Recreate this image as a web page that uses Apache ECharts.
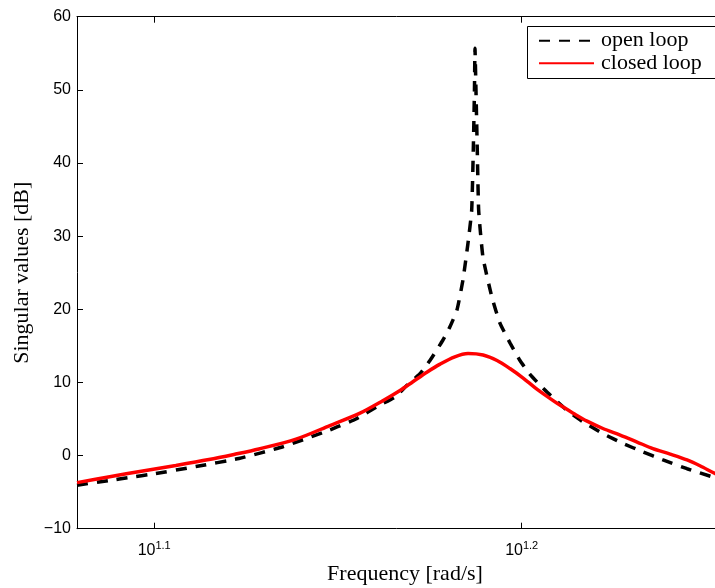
<!DOCTYPE html>
<html>
<head>
<meta charset="utf-8">
<script src="https://cdn.jsdelivr.net/npm/echarts@6/dist/echarts.min.js"></script>
<style>
html,body{margin:0;padding:0;background:#fff;}
#chart{width:715px;height:588px;}
</style>
</head>
<body>
<div id="chart"></div>
<script>
// Frequency given as log10(rad/s) exponent, values in dB
const openLoopLogFreq = [1.0790, 1.0879, 1.09311, 1.1000, 1.11135, 1.12305, 1.13503, 1.1478, 1.1549, 1.16143, 1.16551, 1.16878, 1.17232, 1.17504, 1.17858, 1.18048, 1.18239, 1.18402, 1.18538, 1.18639, 1.18683, 1.18715, 1.18729, 1.18756, 1.18792, 1.18830, 1.18947, 1.19192, 1.19409, 1.19681, 1.19954, 1.20226, 1.2058, 1.2077, 1.21179, 1.21669, 1.22213, 1.22757, 1.23302, 1.23846, 1.24499, 1.2518, 1.2575];
const openLoopDb = [-4.05, -3.4, -3.0, -2.5, -1.5, -0.4, 1.2, 3.5, 5.0, 6.9, 8.0, 9.6, 11.2, 13.0, 15.8, 17.6, 19.9, 24.0, 29.0, 33.5, 41.7, 50.0, 55.7, 50.0, 41.7, 33.5, 27.1, 21.6, 18.1, 15.4, 13.0, 11.1, 9.2, 8.3, 6.4, 4.6, 3.0, 1.65, 0.5, -0.6, -1.8, -2.9, -3.7];

const closedLoopLogFreq = [1.0790, 1.0879, 1.0969, 1.1059, 1.1149, 1.1217, 1.1285, 1.1386, 1.1478, 1.1560, 1.1622, 1.1669, 1.1704, 1.1742, 1.1778, 1.1818, 1.1854, 1.1895, 1.1933, 1.1968, 1.2004, 1.2036, 1.2069, 1.2104, 1.2140, 1.2178, 1.2221, 1.2268, 1.2314, 1.2357, 1.2404, 1.2450, 1.2485, 1.2526, 1.2575];
const closedLoopDb = [-3.7, -2.9, -2.1, -1.35, -0.55, 0.15, 0.9, 2.25, 4.1, 5.8, 7.5, 8.9, 10.1, 11.4, 12.5, 13.5, 13.95, 13.75, 13.0, 11.9, 10.6, 9.3, 8.1, 6.9, 5.8, 4.7, 3.7, 2.8, 1.85, 0.95, 0.2, -0.6, -1.4, -2.45, -3.6];

const seriesNames = ['open loop', 'closed loop'];
const xTickExponents = [1.1, 1.2];
const xMin = 1.079, xMax = 1.2575;
const yMin = -10, yMax = 60, yStep = 10;

const pair = (xs, ys) => xs.map((x, i) => [x, ys[i]]);

const serif = 'Liberation Serif, Times New Roman, serif';
const sans = 'Liberation Sans, Arial, Helvetica, sans-serif';

const chart = echarts.init(document.getElementById('chart'), null, {renderer: 'canvas'});
chart.setOption({
  animation: false,
  backgroundColor: '#fff',
  grid: {left: 77, right: -18, top: 16.7, bottom: 59.3, containLabel: false, outerBoundsMode: 'none'},
  graphic: [{
    type: 'rect', z: 5, silent: true,
    shape: {x: 527, y: 26.7, width: 200, height: 51.6},
    style: {fill: '#fff', lineWidth: 0}
  }, {
    type: 'polyline', z: 5, silent: true,
    shape: {points: [[740, 26.5], [527.5, 26.5], [527.5, 78.5], [740, 78.5]]},
    style: {fill: null, stroke: '#000', lineWidth: 1}
  }],
  legend: {
    left: 527, top: 26.7, orient: 'vertical', z: 6,
    data: seriesNames,
    itemWidth: 55, itemHeight: 14, itemGap: 0.5,
    padding: [3, 10, 4, 11],
    borderWidth: 0,
    itemStyle: {opacity: 0},
    textStyle: {fontFamily: serif, fontSize: 22, color: '#000', lineHeight: 22, padding: [0, 0, 0, 2]},
    selectedMode: false
  },
  xAxis: [{
    type: 'value', min: xMin, max: xMax, position: 'bottom',
    name: 'Frequency [rad/s]', nameLocation: 'middle', nameGap: 29,
    nameTextStyle: {fontFamily: serif, fontSize: 22, color: '#000'},
    axisLine: {show: true, onZero: false, lineStyle: {color: '#000', width: 1}},
    axisTick: {show: true, inside: true, length: 6, customValues: xTickExponents, lineStyle: {color: '#000'}},
    axisLabel: {
      show: true, margin: 12, customValues: xTickExponents,
      formatter: v => '{b|10}{s|' + v.toFixed(1) + '}',
      rich: {
        b: {fontFamily: sans, fontSize: 16, color: '#000'},
        s: {fontFamily: sans, fontSize: 11, color: '#000', padding: [0, 0, 9, 0]}
      }
    },
    splitLine: {show: false}
  }, {
    type: 'value', min: xMin, max: xMax, position: 'top',
    axisLine: {show: true, onZero: false, lineStyle: {color: '#000', width: 1}},
    axisTick: {show: true, inside: true, length: 6, customValues: xTickExponents, lineStyle: {color: '#000'}},
    axisLabel: {show: false},
    splitLine: {show: false}
  }],
  yAxis: {
    type: 'value', min: yMin, max: yMax, interval: yStep,
    name: 'Singular values [dB]', nameLocation: 'middle', nameGap: 40,
    nameTextStyle: {fontFamily: serif, fontSize: 22, color: '#000'},
    axisLine: {show: true, onZero: false, lineStyle: {color: '#000', width: 1}},
    axisTick: {show: true, inside: true, length: 6, lineStyle: {color: '#000'}},
    axisLabel: {
      margin: 6, fontFamily: sans, fontSize: 16, color: '#000',
      formatter: v => (v < 0 ? '\u2212' + Math.abs(v) : String(v))
    },
    splitLine: {show: false}
  },
  series: [{
    name: seriesNames[0], type: 'line', xAxisIndex: 0,
    data: pair(openLoopLogFreq, openLoopDb),
    symbol: 'none', smooth: 0.15, clip: true,
    lineStyle: {color: '#000', width: 3.5, type: [11, 9]},
    itemStyle: {color: '#000'}, z: 2
  }, {
    name: seriesNames[1], type: 'line', xAxisIndex: 0,
    data: pair(closedLoopLogFreq, closedLoopDb),
    symbol: 'none', smooth: 0.3, clip: true,
    lineStyle: {color: '#ff0000', width: 3.5, type: 'solid'},
    itemStyle: {color: '#ff0000'}, z: 3
  }]
});
</script>
</body>
</html>
